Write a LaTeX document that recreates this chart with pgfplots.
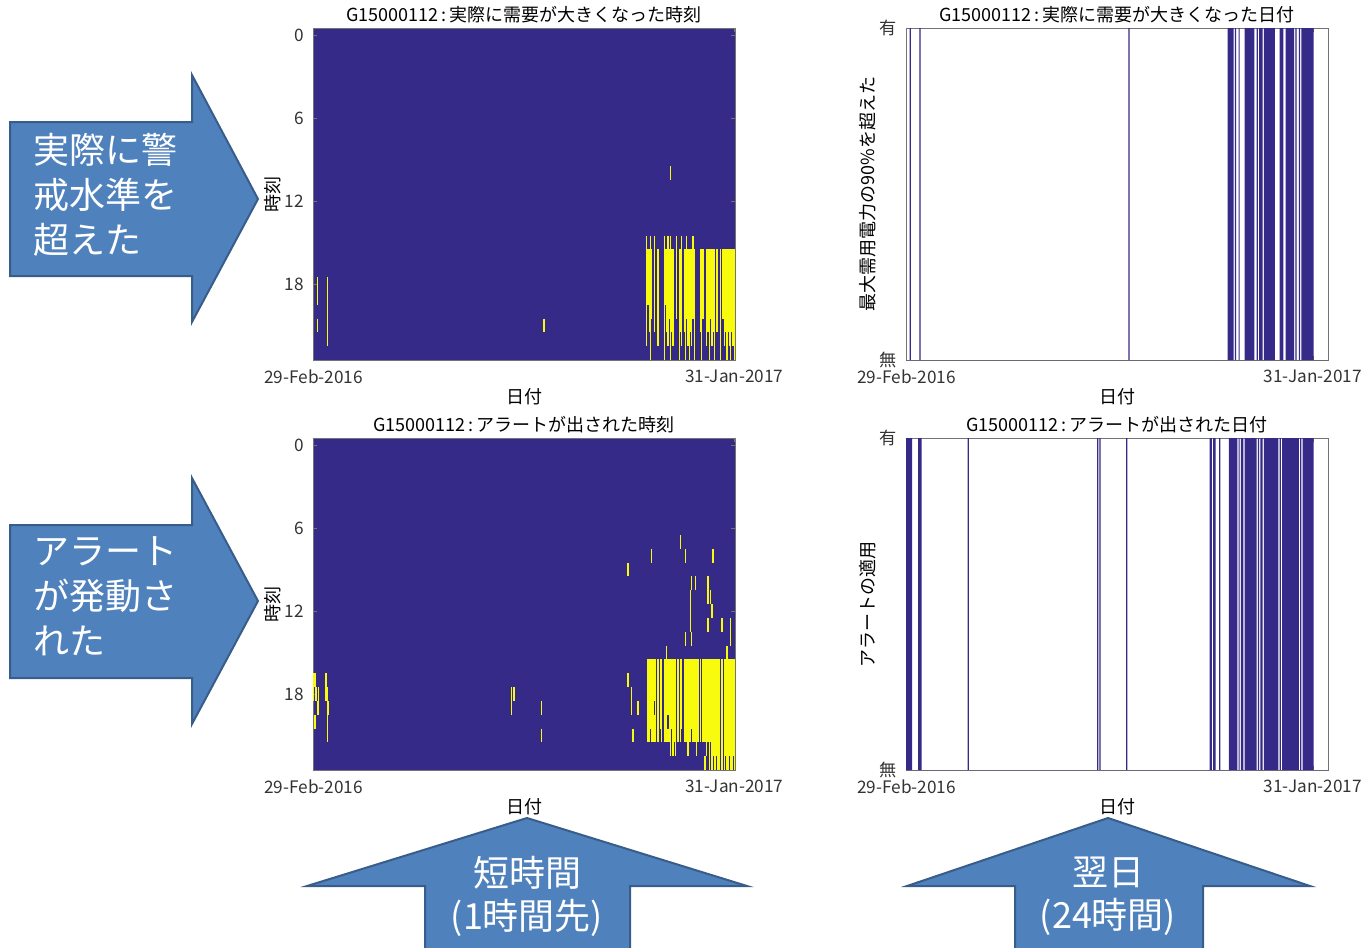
\documentclass[border=0pt]{standalone}
\usepackage{fontspec}
\setmainfont{Noto Sans CJK JP}
\usepackage{pgfplots}
\usepackage{pgfplotstable}
\pgfplotsset{compat=1.18}

\definecolor{pblue}{RGB}{53,42,135}
\definecolor{pyellow}{RGB}{249,251,14}
\definecolor{arrowfill}{RGB}{79,129,189}
\definecolor{arrowdraw}{RGB}{56,93,138}

% top-left heatmap: day, first hour, last hour of a yellow run
\pgfplotstableread{
d h0 h1
3 18 19
3 21 21
11 18 22
184 21 21
266 15 22
267 16 19
268 16 21
269 15 23
270 16 20
272 15 21
275 16 22
280 15 23
281 16 19
282 16 21
283 15 22
284 16 20
285 10 10
285 15 23
286 16 21
287 16 22
290 15 20
292 16 23
293 16 21
294 15 22
296 16 21
297 16 23
298 15 20
299 16 22
300 16 23
301 16 21
302 16 22
303 15 20
304 16 23
309 16 21
310 16 23
311 16 20
314 16 22
315 16 21
316 16 23
317 16 20
318 16 22
319 16 21
320 16 23
322 16 21
325 16 23
327 16 20
328 16 22
329 16 21
330 16 23
331 16 21
332 16 22
333 16 23
334 16 21
335 16 22
336 16 23
}\tlheat

% bottom-left heatmap
\pgfplotstableread{
d h0 h1
0 17 17
1 17 17
0 18 18
2 18 18
4 18 19
3 19 19
1 20 20
10 17 18
11 18 19
11 20 21
12 19 19
158 18 19
160 18 18
182 19 19
182 21 21
251 9 9
251 17 17
254 18 19
255 21 21
259 19 19
267 16 21
268 16 21
269 16 20
270 8 8
270 16 21
271 16 21
272 16 18
272 20 21
273 16 21
275 16 21
277 16 20
278 16 21
280 16 21
281 16 21
282 15 21
283 16 19
283 21 21
284 16 21
285 16 21
285 22 22
286 16 20
287 16 21
287 22 22
288 16 21
289 16 21
289 22 22
291 16 21
293 7 7
293 16 21
294 16 20
296 16 21
297 8 8
297 14 14
297 16 21
298 16 21
299 16 22
300 16 21
301 11 13
301 16 21
302 10 10
302 14 14
302 16 20
303 16 21
304 16 21
305 10 10
305 16 21
306 16 22
307 16 21
309 16 21
311 16 21
312 16 21
312 23 23
313 16 21
313 23 23
314 16 22
315 10 11
315 13 13
315 16 21
316 16 23
317 11 11
317 16 21
318 12 12
318 16 23
319 8 8
319 16 22
320 16 23
321 16 23
322 16 22
323 16 23
324 16 23
326 13 13
326 16 23
328 16 23
329 16 22
330 15 23
331 16 23
332 16 22
333 13 14
333 16 23
334 16 23
335 16 22
336 16 23
}\blheat

\pgfplotsset{
  panel/.style={
    scale only axis, width=211pt, height=166pt, anchor=south west,
    axis line style={draw=black!55, line width=0.4pt},
    tick style={draw=black!55}, major tick length=2pt, tick align=inside,
    ticklabel style={font=\fontsize{8.6}{9.5}\selectfont, text=black!80},
    xticklabel style={yshift=-1.2pt},
    yticklabel style={xshift=-1pt},
    every axis title/.style={at={(0.5,1)}, anchor=center, yshift=6.5pt,
      font=\fontsize{9}{10}\selectfont},
    every axis x label/.style={at={(0.5,0)}, anchor=center, yshift=-18.5pt,
      font=\fontsize{9}{10}\selectfont},
    every axis y label/.style={at={(axis description cs:-0.095,0.5)}, rotate=90,
      anchor=center, font=\fontsize{9}{10}\selectfont},
  },
  heat/.style={
    panel, xmin=0, xmax=337, ymin=0, ymax=24, y dir=reverse,
    axis background/.style={fill=pblue},
    xtick={0.5,336.5}, xticklabels={29-Feb-2016,31-Jan-2017},
    ytick={0.5,6.5,12.5,18.5}, yticklabels={0,6,12,18},
    xlabel={日付}, ylabel={時刻},
  },
  bars/.style={
    panel, xmin=-0.5, xmax=348.5, ymin=0, ymax=1,
    xtick={0,336}, xticklabels={29-Feb-2016,31-Jan-2017},
    ytick={0,1}, yticklabels={無,有},
    xlabel={日付},
    every axis y label/.style={at={(axis description cs:-0.09,0.5)}, rotate=90,
      anchor=center, font=\fontsize{9}{10}\selectfont},
  },
  yellowruns/.style={draw=none, mark=none,
    error bars/.cd, y dir=plus, y explicit, error mark=none,
    error bar style={draw=pyellow, line width=0.66pt}},
}

\begin{document}
\begin{tikzpicture}
\useasboundingbox (0,0) rectangle (680.5pt,-474pt);

% ---- top-left heatmap
\begin{axis}[heat, at={(156.5pt,-180pt)},
  title={G15000112\,:\,実際に需要が大きくなった時刻}]
\addplot[yellowruns] table[x expr=\thisrow{d}+0.5, y=h0,
  y error plus expr=\thisrow{h1}-\thisrow{h0}+1] {\tlheat};
\end{axis}

% ---- bottom-left heatmap
\begin{axis}[heat, at={(156.5pt,-385pt)},
  title={G15000112\,:\,アラートが出された時刻}]
\addplot[yellowruns] table[x expr=\thisrow{d}+0.5, y=h0,
  y error plus expr=\thisrow{h1}-\thisrow{h0}+1] {\blheat};
\end{axis}

% ---- top-right barcode
\begin{axis}[bars, at={(453pt,-180pt)},
  title={G15000112\,:\,実際に需要が大きくなった日付},
  ylabel={最大需用電力の90\%を超えた}]
\addplot[const plot, fill=pblue, draw=none] coordinates {
(-0.5,0) (2.5,1) (3.5,0) (10.5,1) (11.5,0) (183.5,1) (184.5,0)
(265.5,1) (270.5,0) (271.5,1) (272.5,0) (274.5,1) (275.5,0)
(279.5,1) (287.5,0) (289.5,1) (290.5,0) (291.5,1) (294.5,0)
(295.5,1) (304.5,0) (308.5,1) (311.5,0) (313.5,1) (320.5,0)
(321.5,1) (322.5,0) (324.5,1) (325.5,0) (326.5,1) (336.5,0) (348.5,0)
} \closedcycle;
\end{axis}

% ---- bottom-right barcode
\begin{axis}[bars, at={(453pt,-385pt)},
  title={G15000112\,:\,アラートが出された日付},
  ylabel={アラートの適用}]
\addplot[const plot, fill=pblue, draw=none] coordinates {
(-0.5,1) (4.5,0) (9.5,1) (12.5,0) (50.5,1) (51.5,0)
(157.5,1) (158.5,0) (159.5,1) (160.5,0) (181.5,1) (182.5,0)
(250.5,1) (252.5,0) (253.5,1) (255.5,0) (258.5,1) (259.5,0)
(266.5,1) (273.5,0) (274.5,1) (275.5,0) (276.5,1) (278.5,0)
(279.5,1) (289.5,0) (290.5,1) (291.5,0) (292.5,1) (294.5,0)
(295.5,1) (307.5,0) (308.5,1) (309.5,0) (310.5,1) (324.5,0)
(325.5,1) (326.5,0) (327.5,1) (336.5,0) (348.5,0)
} \closedcycle;
\end{axis}

% ---- callout arrows
\begin{scope}[fill=arrowfill, draw=arrowdraw, line width=1pt, line join=miter]
\filldraw (5pt,-61pt) -- (96pt,-61pt) -- (96pt,-37.5pt) -- (129pt,-99.5pt)
  -- (96pt,-161pt) -- (96pt,-138pt) -- (5pt,-138pt) -- cycle;
\filldraw (5pt,-262.5pt) -- (96pt,-262.5pt) -- (96pt,-239pt) -- (129pt,-300.5pt)
  -- (96pt,-362pt) -- (96pt,-339pt) -- (5pt,-339pt) -- cycle;
\filldraw (212.5pt,-478pt) -- (212.5pt,-443pt) -- (153.5pt,-443pt) -- (263.5pt,-409pt)
  -- (373.5pt,-443pt) -- (315pt,-443pt) -- (315pt,-478pt) -- cycle;
\filldraw (507.5pt,-478pt) -- (507.5pt,-443pt) -- (453.5pt,-443pt) -- (554pt,-409pt)
  -- (655pt,-443pt) -- (601.5pt,-443pt) -- (601.5pt,-478pt) -- cycle;
\end{scope}
\begin{scope}[every node/.style={text=white, inner sep=0pt,
    font=\fontsize{18}{22.5}\selectfont}]
\node[anchor=west, align=left] at (16.5pt,-97.5pt) {実際に警\\戒水準を\\超えた};
\node[anchor=west, align=left] at (16.5pt,-298pt) {アラート\\が発動さ\\れた};
\node[align=center, font=\fontsize{18}{21.5}\selectfont] at (263.5pt,-448pt) {短時間\\(1時間先)};
\node[align=center, font=\fontsize{18}{21.5}\selectfont] at (554pt,-448pt) {翌日\\(24時間)};
\end{scope}
\end{tikzpicture}
\end{document}
